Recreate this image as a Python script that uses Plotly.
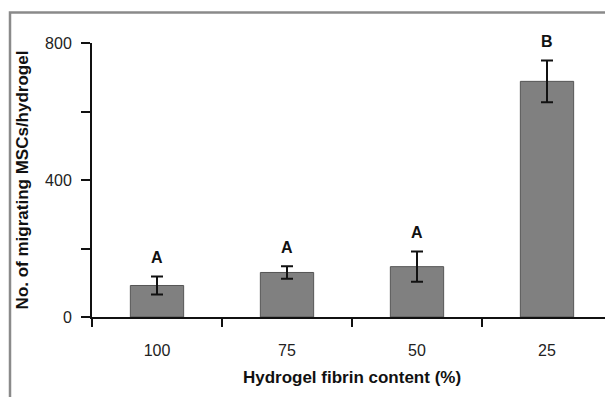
import plotly.graph_objects as go

categories = ["100", "75", "50", "25"]
means = [92, 130, 147, 688]
errors = [26, 18, 44, 61]
letters = ["A", "A", "A", "B"]
y_tick_vals = [0, 200, 400, 600, 800]
y_tick_text = ["0", "", "400", "", "800"]

# page body has an 8px margin, so the figure is drawn 8px in from the window corner
W, H = 605, 389
L, R, T, B = 84, 1, 35, 80

xpos = list(range(len(categories)))
boundaries = [i - 0.5 for i in range(len(categories) + 1)]

fig = go.Figure()
fig.add_trace(go.Bar(
    x=xpos, y=means,
    width=0.41,
    marker=dict(color="#808080", line=dict(color="#555555", width=1)),
    error_y=dict(type="data", array=errors, visible=True,
                 color="#111111", thickness=2, width=6),
))

for xp, m, e, t in zip(xpos, means, errors, letters):
    fig.add_annotation(x=xp, y=m + e, text="<b>%s</b>" % t, showarrow=False,
                       yshift=19, font=dict(family="Liberation Sans, Arial", size=16, color="#111111"))

pw = W - L - R
ph = H - T - B
# gray frame (top and left edges visible)
fig.add_shape(type="rect", xref="paper", yref="paper",
              x0=(2 - L) / pw, x1=(W + 10 - L) / pw,
              y0=(H - B - (H + 10)) / ph, y1=(H - B - 4.5) / ph,
              line=dict(color="#8a8a8a", width=2.5), fillcolor="rgba(0,0,0,0)")

fig.update_layout(
    width=W, height=H,
    margin=dict(l=L, r=R, t=T, b=B),
    paper_bgcolor="white", plot_bgcolor="white",
    showlegend=False,
    font=dict(family="Liberation Sans, Arial", color="#222222"),
)
fig.update_xaxes(
    range=[-0.5, 3.5], tickvals=xpos, ticktext=categories,
    showline=True, linecolor="#111111", linewidth=2,
    ticks="", tickfont=dict(size=16, color="#222222"), ticklabelstandoff=18,
    minor=dict(tickvals=boundaries, ticks="outside", ticklen=8, tickwidth=2,
               tickcolor="#111111", showgrid=False),
    title=dict(text="<b>Hydrogel fibrin content (%)</b>", font=dict(size=17, color="#111111"), standoff=13),
    showgrid=False, zeroline=False,
)
fig.update_yaxes(
    range=[0, 800], tickvals=y_tick_vals, ticktext=y_tick_text,
    showline=True, linecolor="#111111", linewidth=2,
    ticks="outside", ticklen=9, tickwidth=2, tickcolor="#111111",
    tickfont=dict(size=16, color="#222222"), ticklabelstandoff=6,
    title=dict(text="<b>No. of migrating MSCs/hydrogel</b>", font=dict(size=17, color="#111111"), standoff=12),
    showgrid=False, zeroline=False,
)

fig.write_html("out.html")
